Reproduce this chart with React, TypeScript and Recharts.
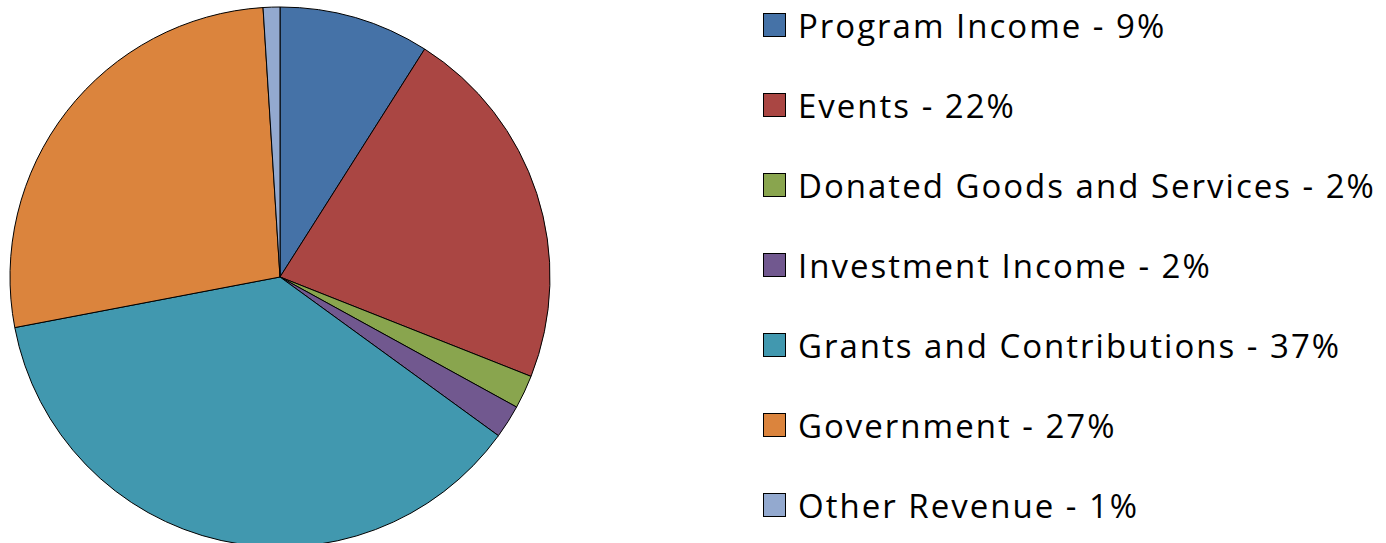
import React from 'react';
import { PieChart, Pie, Cell } from 'recharts';

const categories = [
  'Program Income',
  'Events',
  'Donated Goods and Services',
  'Investment Income',
  'Grants and Contributions',
  'Government',
  'Other Revenue',
];
const percents = [9, 22, 2, 2, 37, 27, 1];
const colors = ['#4572A7', '#AA4643', '#89A54E', '#71588F', '#4198AF', '#DB843D', '#93A9CF'];

const data = categories.map((name, i) => ({ name, value: percents[i] }));

export default function App() {
  return (
    <div style={{ position: 'absolute', left: 0, top: 0, width: 1386, height: 543, background: '#fff', overflow: 'hidden' }}>
      <PieChart width={600} height={543} margin={{ top: 0, right: 0, bottom: 0, left: 0 }}>
        <Pie
          data={data}
          dataKey="value"
          cx={280}
          cy={277}
          outerRadius={270}
          startAngle={90}
          endAngle={-270}
          stroke="#000"
          strokeWidth={1}
          isAnimationActive={false}
        >
          {data.map((d, i) => (
            <Cell key={d.name} fill={colors[i]} />
          ))}
        </Pie>
      </PieChart>
      {data.map((d, i) => (
        <div
          key={d.name}
          style={{
            position: 'absolute',
            left: 763,
            top: 25 + i * 80 - 20,
            height: 40,
            display: 'flex',
            alignItems: 'center',
            fontFamily: '"Open Sans", sans-serif',
            fontSize: 33,
            letterSpacing: 2,
            color: '#000',
            whiteSpace: 'nowrap',
          }}
        >
          <span
            style={{
              display: 'inline-block',
              width: 21,
              height: 22,
              background: colors[i],
              border: '1px solid #000',
              marginRight: 12,
            }}
          />
          <span>{`${d.name} - ${d.value}%`}</span>
        </div>
      ))}
    </div>
  );
}
